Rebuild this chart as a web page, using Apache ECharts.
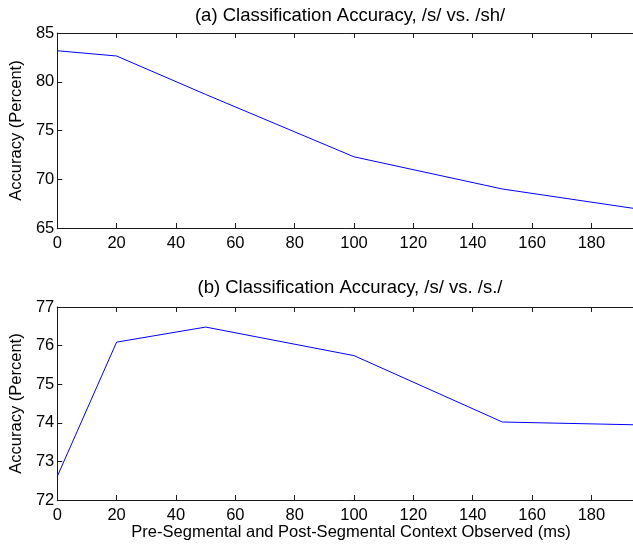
<!DOCTYPE html>
<html>
<head>
<meta charset="utf-8">
<script src="https://cdn.jsdelivr.net/npm/echarts@6/dist/echarts.min.js"></script>
<style>
html,body{margin:0;padding:0;background:#fff;}
#chart{width:633px;height:545px;}
</style>
</head>
<body>
<div id="chart"></div>
<script>
// Data
const contextMs = [0, 20, 50, 100, 150, 200];
const accuracySvsSH = [83.18, 82.64, 78.7, 72.3, 69.0, 66.75];
const accuracySvsSdot = [72.61, 76.09, 76.48, 75.74, 74.02, 73.94];
const titleA = '(a) Classification Accuracy, /s/ vs. /sh/';
const titleB = '(b) Classification Accuracy, /s/ vs. /s./';
const yAxisTitle = 'Accuracy (Percent)';
const xAxisTitle = 'Pre-Segmental and Post-Segmental Context Observed (ms)';
const xRange = [0, 194];
const yRangeA = [65, 85];
const yRangeB = [72, 77];

const FONT = "'Liberation Sans', Arial, Helvetica, sans-serif";
const AX = '#1a1a1a';

function xAx(gi, pos, showLabels) {
  return {
    type: 'value', gridIndex: gi, position: pos,
    min: xRange[0], max: xRange[1], interval: 20,
    axisLine: {show: true, onZero: false, lineStyle: {color: AX, width: 1}},
    axisTick: {show: true, inside: true, length: 5, lineStyle: {color: AX}},
    axisLabel: {show: showLabels, margin: 7, color: '#000', fontSize: 16.5, fontFamily: FONT, showMaxLabel: false},
    splitLine: {show: false}
  };
}
function yAx(gi, r, iv) {
  return {
    type: 'value', gridIndex: gi, min: r[0], max: r[1], interval: iv,
    name: yAxisTitle, nameLocation: 'middle', nameRotate: 90, nameGap: 30,
    nameTextStyle: {color: '#000', fontSize: 16.5, fontFamily: FONT},
    axisLine: {show: true, onZero: false, lineStyle: {color: AX, width: 1}},
    axisTick: {show: true, inside: true, length: 5, lineStyle: {color: AX}},
    axisLabel: {margin: 3, color: '#000', fontSize: 16.5, fontFamily: FONT},
    splitLine: {show: false}
  };
}

const chart = echarts.init(document.getElementById('chart'), null, {renderer: 'canvas'});
chart.setOption({
  animation: false,
  backgroundColor: '#fff',
  title: [
    {text: titleA, left: 350, top: 6, textAlign: 'center', padding: 0,
     textStyle: {fontSize: 18.5, fontWeight: 'normal', color: '#000', fontFamily: FONT}},
    {text: titleB, left: 350, top: 278, textAlign: 'center', padding: 0,
     textStyle: {fontSize: 18.5, fontWeight: 'normal', color: '#000', fontFamily: FONT}},
    {text: xAxisTitle, left: 351, top: 524, textAlign: 'center', padding: 0,
     textStyle: {fontSize: 16.5, fontWeight: 'normal', color: '#000', fontFamily: FONT}}
  ],
  grid: [
    {left: 53, right: 0, top: 33, height: 195},
    {left: 53, right: 0, top: 307, height: 193}
  ],
  xAxis: [xAx(0, 'bottom', true), xAx(0, 'top', false), xAx(1, 'bottom', true), xAx(1, 'top', false)],
  yAxis: [yAx(0, yRangeA, 5), yAx(1, yRangeB, 1)],
  series: [
    {type: 'line', xAxisIndex: 0, yAxisIndex: 0, showSymbol: false, symbol: 'none',
     lineStyle: {color: '#0000ff', width: 1}, data: contextMs.map((x, i) => [x, accuracySvsSH[i]])},
    {type: 'line', xAxisIndex: 2, yAxisIndex: 1, showSymbol: false, symbol: 'none',
     lineStyle: {color: '#0000ff', width: 1}, data: contextMs.map((x, i) => [x, accuracySvsSdot[i]])}
  ]
});
</script>
</body>
</html>
